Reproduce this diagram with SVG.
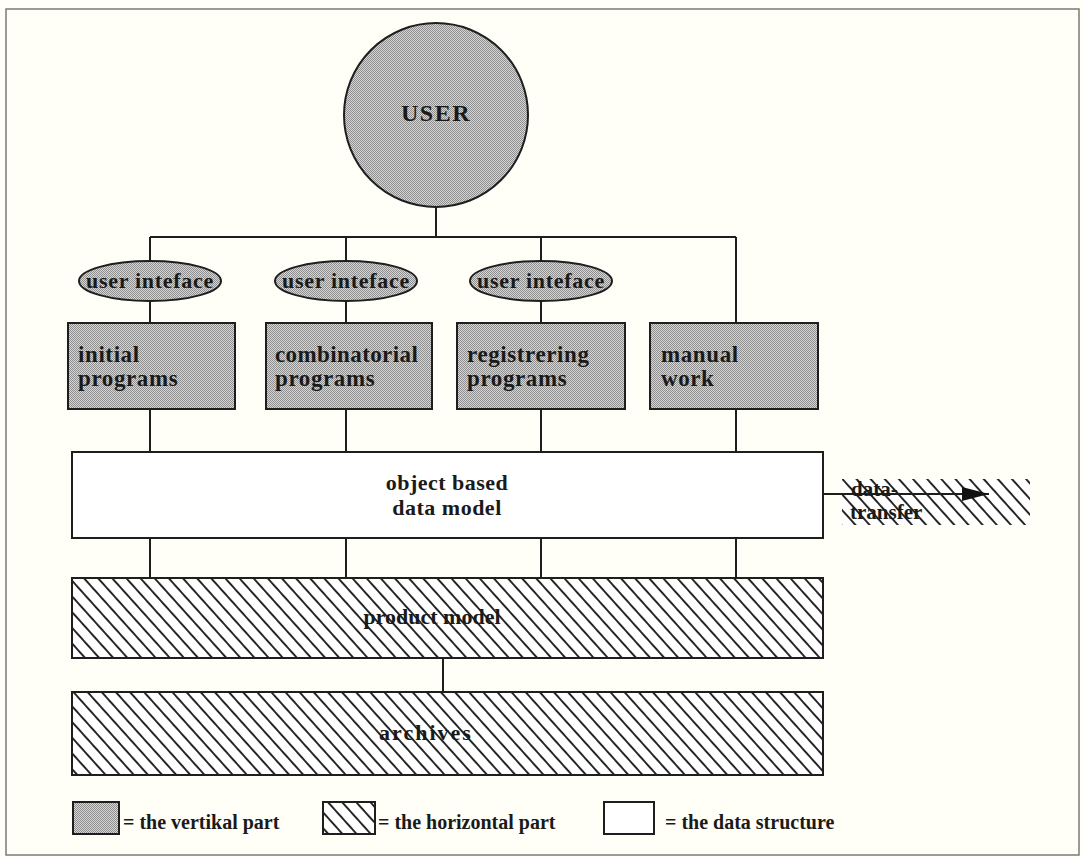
<svg xmlns="http://www.w3.org/2000/svg" width="1083" height="858" viewBox="0 0 1083 858">
<defs>
<pattern id="stip" patternUnits="userSpaceOnUse" width="2" height="2">
<rect width="2" height="2" fill="#d6d6d6"/>
<rect x="0" y="0" width="1" height="1" fill="#8e8e8e"/>
<rect x="1" y="1" width="1" height="1" fill="#8e8e8e"/>
</pattern>
<pattern id="hatch" patternUnits="userSpaceOnUse" width="10.5" height="10.5" patternTransform="rotate(-42)">
<rect width="10.5" height="10.5" fill="#ffffff"/>
<line x1="1" y1="0" x2="1" y2="10.5" stroke="#1e1e1e" stroke-width="1.9"/>
</pattern>
<marker id="arr" markerUnits="userSpaceOnUse" markerWidth="28" markerHeight="16" refX="27" refY="8" orient="auto">
<path d="M0,1 L27,8 L0,15 Z" fill="#111"/>
</marker>
</defs>
<style>
.t{font-family:"Liberation Serif","Times New Roman",serif;font-weight:bold;fill:#1a1a1a}
.box{stroke:#1e1e1e;stroke-width:2}
.gray{fill:url(#stip)}
.hat{fill:url(#hatch)}
.wht{fill:#ffffff}
.c{stroke:#1e1e1e;stroke-width:2;fill:none}
</style>
<rect x="0" y="0" width="1083" height="858" fill="#fffef7"/>
<rect x="6" y="9" width="1073" height="846" fill="none" stroke="#7a7a7a" stroke-width="1.5"/>

<g id="connectors">
<path class="c" d="M436,207 V237 M150,237 H736 M150,237 V260 M346,237 V260 M541,237 V260 M736,237 V323"/>
<path class="c" d="M150,302 V323 M346,302 V323 M541,302 V323"/>
<path class="c" d="M150,409 V452 M346,409 V452 M541,409 V452 M736,409 V452"/>
<path class="c" d="M150,538 V578 M346,538 V578 M541,538 V578 M736,538 V578"/>
<path class="c" d="M443,658 V692"/>
</g>

<g id="user">
<circle class="box gray" cx="436" cy="115" r="92"/>
<text class="t" x="436" y="121" font-size="24" text-anchor="middle" letter-spacing="1.5">USER</text>
</g>

<g id="ui1">
<ellipse class="box gray" cx="150" cy="281" rx="71" ry="20"/>
<text class="t" x="150" y="288" font-size="22" text-anchor="middle" letter-spacing="0.7">user inteface</text>
</g>
<g id="ui2">
<ellipse class="box gray" cx="346" cy="281" rx="71" ry="20"/>
<text class="t" x="346" y="288" font-size="22" text-anchor="middle" letter-spacing="0.7">user inteface</text>
</g>
<g id="ui3">
<ellipse class="box gray" cx="541" cy="281" rx="71" ry="20"/>
<text class="t" x="541" y="288" font-size="22" text-anchor="middle" letter-spacing="0.7">user inteface</text>
</g>

<g id="initial">
<rect class="box gray" x="68" y="323" width="167" height="86"/>
<text class="t" x="78" y="362" font-size="23" letter-spacing="0.6">initial</text>
<text class="t" x="78" y="386" font-size="23" letter-spacing="0.6">programs</text>
</g>
<g id="combinatorial">
<rect class="box gray" x="266" y="323" width="166" height="86"/>
<text class="t" x="275" y="362" font-size="23" letter-spacing="0.4">combinatorial</text>
<text class="t" x="275" y="386" font-size="23" letter-spacing="0.6">programs</text>
</g>
<g id="registrering">
<rect class="box gray" x="457" y="323" width="168" height="86"/>
<text class="t" x="467" y="362" font-size="23" letter-spacing="0.6">registrering</text>
<text class="t" x="467" y="386" font-size="23" letter-spacing="0.6">programs</text>
</g>
<g id="manual">
<rect class="box gray" x="650" y="323" width="168" height="86"/>
<text class="t" x="661" y="362" font-size="23" letter-spacing="0.6">manual</text>
<text class="t" x="661" y="386" font-size="23" letter-spacing="0.6">work</text>
</g>

<g id="datamodel">
<rect class="box wht" x="72" y="452" width="751" height="86"/>
<text class="t" x="447" y="490" font-size="22" text-anchor="middle" letter-spacing="0.5">object based</text>
<text class="t" x="447" y="515" font-size="22" text-anchor="middle" letter-spacing="0.5">data model</text>
</g>

<g id="datatransfer">
<rect class="hat" x="842" y="479" width="188" height="46"/>
<line class="c" x1="823" y1="494" x2="989" y2="494" marker-end="url(#arr)"/>
<text class="t" x="851" y="496" font-size="21">data-</text>
<text class="t" x="850" y="519" font-size="21">transfer</text>
</g>

<g id="productmodel">
<rect class="box hat" x="72" y="578" width="751" height="80"/>
<text class="t" x="432" y="624" font-size="22" text-anchor="middle">product model</text>
</g>

<g id="archives">
<rect class="box hat" x="72" y="692" width="751" height="83"/>
<text class="t" x="426" y="740" font-size="22" text-anchor="middle" letter-spacing="2">archives</text>
</g>

<g id="legend">
<rect class="box gray" x="73" y="802" width="46" height="32"/>
<text class="t" x="123" y="829" font-size="20">= the vertikal part</text>
<rect class="box hat" x="323" y="802" width="52" height="32"/>
<text class="t" x="378" y="829" font-size="20">= the horizontal part</text>
<rect class="box wht" x="604" y="802" width="50" height="32"/>
<text class="t" x="665" y="829" font-size="20">= the data structure</text>
</g>
</svg>
